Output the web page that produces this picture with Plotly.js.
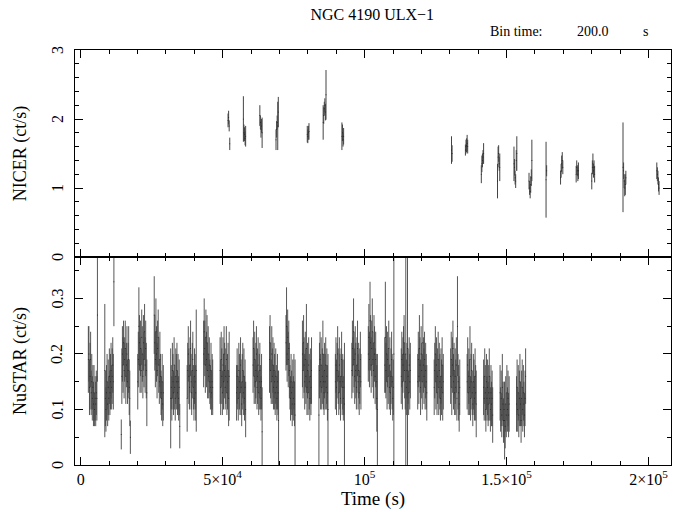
<!DOCTYPE html>
<html>
<head>
<meta charset="utf-8">
<script src="https://cdn.plot.ly/plotly-3.0.1.min.js"></script>
<style>html,body{margin:0;padding:0;background:#fff;}#plot{width:683px;height:512px;}</style>
</head>
<body>
<div id="plot"></div>
<script>
const binTime = 200;

// NICER visits: start time (s), rates (ct/s), errors
const nicerStart = [51800, 57200, 63000, 68700, 79700, 85300, 91900, 130500, 135400, 141000, 146700, 152500, 157800, 163800, 168900, 174400, 179900, 190900, 202800];
const nicerRate = [
  [1.98, 2.02, 1.90, 1.64],
  [2.00, 1.80, 1.78, 1.72, 1.75],
  [2.05, 1.95, 1.85, 1.90, 1.80],
  [1.70, 1.85, 1.95, 1.90, 2.10],
  [1.78, 1.75, 1.80, 1.82],
  [1.95, 2.05, 2.15, 2.20, 2.10, 2.35],
  [1.75, 1.80, 1.70, 1.75],
  [1.55, 1.50],
  [1.55, 1.60, 1.62, 1.65, 1.60],
  [1.20, 1.35, 1.40, 1.45, 1.50],
  [1.10, 1.45, 1.50, 1.35, 1.30],
  [1.35, 1.30, 1.15, 1.10, 1.40, 1.50],
  [1.10, 1.00, 0.95, 1.05, 1.15, 1.40],
  [1.12, 1.25],
  [1.15, 1.25, 1.35, 1.40, 1.30],
  [1.20, 1.30, 1.25, 1.20, 1.25],
  [1.10, 1.30, 1.35, 1.25, 1.30, 1.20],
  [1.30, 1.25, 1.10, 1.00, 1.05, 1.15],
  [1.25, 1.20, 1.15, 1.05, 1.00]
];
const nicerErr = [
  [0.10, 0.10, 0.08, 0.09],
  [0.33, 0.12, 0.10, 0.10, 0.15],
  [0.15, 0.10, 0.12, 0.10, 0.22],
  [0.15, 0.12, 0.10, 0.35, 0.22],
  [0.12, 0.10, 0.10, 0.12],
  [0.25, 0.12, 0.10, 0.10, 0.12, 0.36],
  [0.20, 0.12, 0.10, 0.12],
  [0.20, 0.12],
  [0.08, 0.10, 0.10, 0.12, 0.10],
  [0.13, 0.12, 0.10, 0.10, 0.15],
  [0.25, 0.15, 0.12, 0.10, 0.20],
  [0.25, 0.12, 0.10, 0.10, 0.15, 0.25],
  [0.12, 0.10, 0.10, 0.12, 0.12, 0.30],
  [0.55, 0.08],
  [0.10, 0.10, 0.12, 0.12, 0.10],
  [0.12, 0.10, 0.08, 0.10, 0.12],
  [0.12, 0.10, 0.15, 0.10, 0.10, 0.12],
  [0.65, 0.12, 0.10, 0.12, 0.15, 0.10],
  [0.12, 0.10, 0.10, 0.10, 0.10]
];

// NuSTAR orbits: start time (s), rates (ct/s), errors
const nustarStart = [2600, 8400, 14200, 20000, 25800, 31600, 37400, 43200, 49000, 54800, 60600, 66400, 72200, 78000, 83800, 89600, 95400, 101200, 107000, 112800, 118600, 124400, 130200, 136000, 141800, 147600, 153400];
const nustarRate = [
  [0.19,0.20,0.14,0.16,0.19,0.13,0.15,0.12,0.14,0.11,0.13,0.10,0.12,0.11,0.13,0.12,0.27],
  [0.17,0.12,0.10,0.13,0.15,0.11,0.14,0.12,0.16,0.13,0.15,0.17,0.14,0.16,0.18,0.15,0.33],
  [0.055,0.16,0.20,0.18,0.22,0.17,0.19,0.21,0.16,0.18,0.20,0.15,0.17,0.19,0.14,0.12,0.05],
  [0.15,0.19,0.25,0.22,0.18,0.21,0.17,0.23,0.20,0.16,0.22,0.19,0.24,0.18,0.21,0.17,0.13],
  [0.27,0.22,0.19,0.24,0.20,0.17,0.21,0.23,0.18,0.15,0.19,0.16,0.13,0.12,0.15,0.11,0.13],
  [0.12,0.14,0.12,0.17,0.15,0.13,0.18,0.14,0.12,0.16,0.15,0.17,0.13,0.15,0.12,0.14,0.07],
  [0.12,0.17,0.20,0.16,0.14,0.18,0.21,0.15,0.13,0.17,0.19,0.14,0.12,0.16,0.15,0.13,0.17],
  [0.20,0.24,0.21,0.18,0.23,0.19,0.22,0.17,0.20,0.16,0.18,0.15,0.14,0.17,0.13,0.15,0.14],
  [0.17,0.14,0.19,0.16,0.13,0.18,0.15,0.20,0.17,0.14,0.16,0.19,0.13,0.15,0.17,0.12,0.16],
  [0.13,0.16,0.14,0.12,0.17,0.15,0.13,0.18,0.14,0.11,0.15,0.17,0.13,0.16,0.12,0.14,0.10],
  [0.18,0.21,0.16,0.19,0.15,0.17,0.20,0.14,0.16,0.18,0.13,0.15,0.17,0.14,0.12,0.15,0.06],
  [0.19,0.22,0.17,0.15,0.20,0.16,0.18,0.14,0.17,0.15,0.13,0.16,0.14,0.12,0.15,0.13,0.08],
  [0.22,0.25,0.20,0.23,0.19,0.21,0.17,0.14,0.12,0.15,0.13,0.11,0.14,0.12,0.15,0.11,0.09],
  [0.20,0.17,0.22,0.18,0.15,0.19,0.16,0.21,0.14,0.17,0.13,0.18,0.15,0.12,0.16,0.14,0.17],
  [0.09,0.17,0.19,0.15,0.18,0.14,0.16,0.20,0.15,0.13,0.17,0.15,0.18,0.14,0.16,0.13,0.10],
  [0.15,0.18,0.14,0.17,0.20,0.16,0.13,0.18,0.15,0.12,0.16,0.19,0.14,0.15,0.12,0.14,0.11],
  [0.17,0.21,0.18,0.24,0.19,0.16,0.20,0.17,0.14,0.18,0.21,0.15,0.17,0.13,0.16,0.19,0.15],
  [0.20,0.23,0.19,0.26,0.22,0.18,0.21,0.24,0.19,0.17,0.22,0.20,0.16,0.19,0.15,0.12,0.10],
  [0.18,0.23,0.17,0.20,0.15,0.19,0.16,0.21,0.14,0.18,0.13,0.16,0.19,0.15,0.12,0.14,0.20],
  [0.16,0.19,0.15,0.18,0.20,0.22,0.17,0.15,0.20,0.14,0.17,0.21,0.16,0.13,0.18,0.15,0.17],
  [0.15,0.19,0.16,0.21,0.18,0.14,0.20,0.17,0.15,0.22,0.18,0.16,0.19,0.14,0.17,0.15,0.13],
  [0.14,0.17,0.20,0.15,0.18,0.13,0.16,0.19,0.14,0.17,0.15,0.12,0.16,0.14,0.18,0.13,0.15],
  [0.16,0.19,0.14,0.18,0.21,0.15,0.17,0.13,0.16,0.14,0.18,0.12,0.25,0.15,0.13,0.11,0.14],
  [0.15,0.18,0.13,0.16,0.14,0.19,0.12,0.15,0.17,0.13,0.11,0.15,0.14,0.12,0.16,0.13,0.11],
  [0.14,0.12,0.16,0.13,0.10,0.15,0.12,0.14,0.11,0.13,0.16,0.12,0.10,0.13,0.11,0.12,0.09],
  [0.13,0.10,0.12,0.09,0.14,0.11,0.08,0.10,0.08,0.07,0.11,0.09,0.13,0.10,0.12,0.09,0.11],
  [0.11,0.14,0.10,0.13,0.09,0.12,0.15,0.11,0.08,0.12,0.14,0.10,0.13,0.11,0.09,0.12,0.16]
];
const nustarErr = [
  [0.06,0.05,0.05,0.06,0.05,0.04,0.05,0.04,0.04,0.04,0.05,0.03,0.04,0.04,0.04,0.04,0.12],
  [0.12,0.05,0.04,0.05,0.05,0.04,0.05,0.04,0.05,0.04,0.05,0.05,0.04,0.05,0.05,0.05,0.08],
  [0.027,0.05,0.05,0.05,0.04,0.05,0.04,0.05,0.05,0.04,0.05,0.04,0.05,0.06,0.05,0.05,0.03],
  [0.05,0.05,0.07,0.05,0.05,0.05,0.04,0.05,0.05,0.04,0.05,0.05,0.05,0.05,0.05,0.05,0.06],
  [0.07,0.05,0.05,0.06,0.05,0.05,0.05,0.05,0.05,0.04,0.05,0.04,0.04,0.04,0.05,0.04,0.05],
  [0.09,0.04,0.04,0.05,0.05,0.04,0.05,0.04,0.04,0.05,0.05,0.05,0.04,0.05,0.04,0.05,0.04],
  [0.06,0.05,0.05,0.05,0.04,0.05,0.05,0.05,0.04,0.05,0.05,0.04,0.04,0.05,0.05,0.05,0.11],
  [0.06,0.06,0.05,0.05,0.05,0.05,0.05,0.05,0.05,0.04,0.05,0.04,0.04,0.05,0.04,0.05,0.05],
  [0.06,0.05,0.05,0.05,0.04,0.05,0.05,0.05,0.05,0.04,0.05,0.06,0.04,0.05,0.05,0.05,0.08],
  [0.05,0.05,0.04,0.04,0.05,0.05,0.04,0.05,0.05,0.04,0.05,0.05,0.04,0.05,0.04,0.05,0.05],
  [0.05,0.05,0.05,0.05,0.04,0.05,0.05,0.04,0.05,0.05,0.04,0.05,0.05,0.04,0.04,0.05,0.08],
  [0.06,0.05,0.05,0.04,0.05,0.05,0.05,0.04,0.05,0.05,0.04,0.05,0.04,0.04,0.05,0.04,0.09],
  [0.05,0.07,0.05,0.05,0.05,0.05,0.05,0.04,0.04,0.05,0.04,0.04,0.05,0.04,0.05,0.04,0.10],
  [0.06,0.05,0.05,0.05,0.05,0.05,0.05,0.08,0.05,0.05,0.04,0.05,0.05,0.04,0.05,0.05,0.06],
  [0.09,0.05,0.05,0.05,0.05,0.04,0.05,0.06,0.05,0.04,0.05,0.05,0.05,0.04,0.05,0.05,0.10],
  [0.05,0.05,0.05,0.05,0.05,0.05,0.04,0.05,0.05,0.04,0.05,0.05,0.05,0.05,0.04,0.05,0.11],
  [0.05,0.05,0.05,0.06,0.05,0.05,0.05,0.05,0.04,0.05,0.05,0.05,0.05,0.04,0.05,0.05,0.05],
  [0.05,0.06,0.05,0.07,0.05,0.05,0.05,0.06,0.05,0.05,0.05,0.05,0.05,0.05,0.05,0.06,0.10],
  [0.05,0.10,0.05,0.05,0.05,0.05,0.05,0.05,0.04,0.05,0.04,0.05,0.05,0.05,0.04,0.05,0.22],
  [0.05,0.05,0.05,0.05,0.05,0.05,0.05,0.05,0.22,0.05,0.05,0.21,0.05,0.04,0.05,0.05,0.05],
  [0.05,0.05,0.05,0.06,0.05,0.05,0.05,0.05,0.05,0.07,0.05,0.05,0.05,0.04,0.05,0.05,0.05],
  [0.05,0.05,0.05,0.05,0.05,0.04,0.05,0.05,0.05,0.05,0.05,0.04,0.05,0.05,0.05,0.05,0.05],
  [0.05,0.05,0.05,0.05,0.05,0.05,0.05,0.04,0.05,0.05,0.05,0.04,0.09,0.05,0.05,0.05,0.05],
  [0.05,0.05,0.04,0.05,0.05,0.06,0.04,0.05,0.05,0.04,0.04,0.05,0.05,0.04,0.05,0.05,0.06],
  [0.05,0.04,0.05,0.05,0.04,0.05,0.04,0.05,0.04,0.05,0.05,0.04,0.04,0.05,0.04,0.05,0.05],
  [0.05,0.04,0.05,0.04,0.06,0.04,0.04,0.05,0.07,0.04,0.05,0.04,0.05,0.04,0.05,0.04,0.05],
  [0.05,0.05,0.04,0.05,0.04,0.05,0.05,0.04,0.04,0.05,0.05,0.04,0.05,0.04,0.04,0.05,0.05]
];

const xTickVals = [0, 50000, 100000, 150000, 200000];
const xTickText = ['0', '5×10<sup>4</sup>', '10<sup>5</sup>', '1.5×10<sup>5</sup>', '2×10<sup>5</sup>'];
const topTickVals = [0, 1, 2, 3];
const topTickText = ['0', '1', '2', '3'];
const botTickVals = [0, 0.1, 0.2, 0.3];
const botTickText = ['0', '0.1', '0.2', '0.3'];

function flatten(starts, rates, errs) {
  const x = [], y = [], e = [];
  starts.forEach((s, k) => {
    rates[k].forEach((r, i) => {
      x.push(s + i * binTime + binTime / 2);
      y.push(r);
      e.push(errs[k][i]);
    });
  });
  return {x, y, e};
}
const nic = flatten(nicerStart, nicerRate, nicerErr);
const nus = flatten(nustarStart, nustarRate, nustarErr);

const traces = [
  {x: nic.x, y: nic.y, xaxis: 'x2', yaxis: 'y', type: 'scatter', mode: 'markers',
   marker: {size: 1, color: '#222'},
   error_y: {type: 'data', array: nic.e, visible: true, color: '#444', thickness: 1, width: 0},
   hoverinfo: 'skip'},
  {x: nus.x, y: nus.y, xaxis: 'x', yaxis: 'y2', type: 'scatter', mode: 'markers',
   marker: {size: 1, color: '#222'},
   error_y: {type: 'data', array: nus.e, visible: true, color: '#444', thickness: 0.9, width: 0},
   hoverinfo: 'skip'}
];

const serif = '"Liberation Serif", serif';
const axCommon = {
  showline: true, linecolor: '#000', linewidth: 1, mirror: 'ticks',
  ticks: 'inside', ticklen: 8, tickcolor: '#000', tickwidth: 1,
  showgrid: false, zeroline: false,
  tickfont: {family: serif, size: 16, color: '#000'}
};
const xRange = [-2000, 207900];

// rotated y tick labels (drawn as annotations so they read bottom-to-top)
const tickAnn = [];
topTickVals.forEach((v, i) => tickAnn.push({text: topTickText[i], xref: 'paper', x: 0, xshift: -18, xanchor: 'center',
  yref: 'y', y: v, yanchor: 'middle', textangle: -90, showarrow: false, font: {family: serif, size: 16, color: '#000'}}));
botTickVals.forEach((v, i) => tickAnn.push({text: botTickText[i], xref: 'paper', x: 0, xshift: -18, xanchor: 'center',
  yref: 'y2', y: v, yanchor: 'middle', textangle: -90, showarrow: false, font: {family: serif, size: 16, color: '#000'}}));

const layout = {
  width: 683, height: 512,
  margin: {l: 75, r: 12, t: 50, b: 47},
  paper_bgcolor: '#fff', plot_bgcolor: '#fff',
  showlegend: false,
  font: {family: serif, color: '#000'},
  title: {text: 'NGC 4190 ULX−1', font: {family: serif, size: 16, color: '#000'}, x: 0.545, xanchor: 'center', y: 0.972, yanchor: 'middle'},
  xaxis: Object.assign({}, axCommon, {
    anchor: 'y2', range: xRange, tickvals: xTickVals, ticktext: xTickText,
    minor: {dtick: 10000, tick0: 0, ticks: 'inside', ticklen: 4, tickcolor: '#000'},
    title: {text: 'Time (s)', font: {family: serif, size: 19, color: '#000'}, standoff: 2}
  }),
  xaxis2: Object.assign({}, axCommon, {
    anchor: 'y', matches: 'x', range: xRange, tickvals: xTickVals, showticklabels: false,
    minor: {dtick: 10000, tick0: 0, ticks: 'inside', ticklen: 4, tickcolor: '#000'}
  }),
  yaxis: Object.assign({}, axCommon, {
    domain: [0.5012, 1], anchor: 'x2', range: [0, 3], tickvals: topTickVals, showticklabels: false,
    minor: {dtick: 0.2, tick0: 0, ticks: 'inside', ticklen: 4, tickcolor: '#000'},
    title: {text: 'NICER (ct/s)', font: {family: serif, size: 18, color: '#000'}, standoff: 42}
  }),
  yaxis2: Object.assign({}, axCommon, {
    domain: [0, 0.5012], anchor: 'x', range: [0, 0.3746], tickvals: botTickVals, showticklabels: false,
    minor: {dtick: 0.05, tick0: 0, ticks: 'inside', ticklen: 4, tickcolor: '#000'},
    title: {text: 'NuSTAR (ct/s)', font: {family: serif, size: 18, color: '#000'}, standoff: 42}
  }),
  annotations: tickAnn.concat([
    {text: 'Bin time:', xref: 'paper', yref: 'paper', x: (488 - 75) / 596, y: 1.044, xanchor: 'left', yanchor: 'middle', showarrow: false,
     font: {family: serif, size: 14, color: '#000'}},
    {text: '200.0', xref: 'paper', yref: 'paper', x: (575 - 75) / 596, y: 1.044, xanchor: 'left', yanchor: 'middle', showarrow: false,
     font: {family: serif, size: 14, color: '#000'}},
    {text: 's', xref: 'paper', yref: 'paper', x: (645 - 75) / 596, y: 1.044, xanchor: 'center', yanchor: 'middle', showarrow: false,
     font: {family: serif, size: 14, color: '#000'}}
  ])
};

Plotly.newPlot('plot', traces, layout, {staticPlot: true, displayModeBar: false});
</script>
</body>
</html>
